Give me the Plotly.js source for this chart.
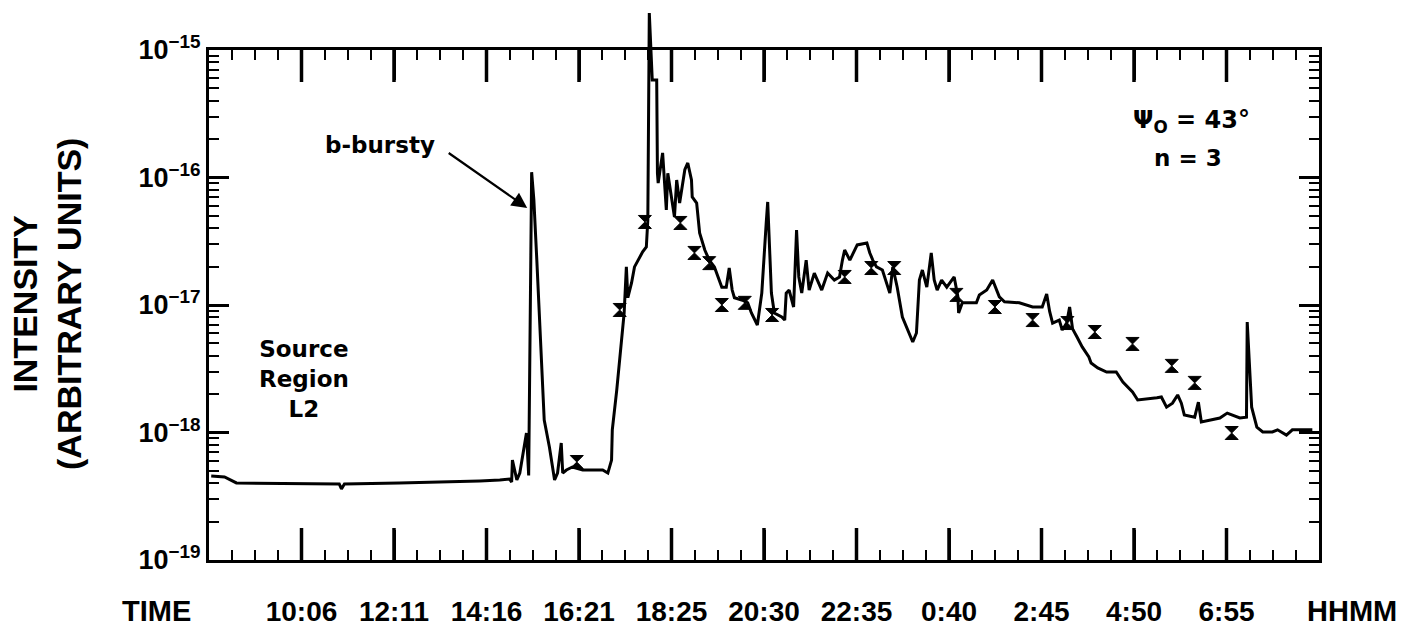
<!DOCTYPE html>
<html><head><meta charset="utf-8">
<script src="https://cdn.plot.ly/plotly-3.0.1.min.js"></script>
<style>html,body{margin:0;padding:0;background:#fff;} #chart{width:1424px;height:628px;}</style>
</head><body><div id="chart"></div>
<script>
// time in minutes after 00:00 of the first day (values beyond 1440 are next day)
const timeMin = [484,502,518,603,657,660,664,738,806,847,874,887,890,891,897,901,910,913,917,920,924,934,941,948,952,957,959,964,972,986,1013,1020,1025,1026,1032,1042,1045,1047,1052,1056,1067,1072,1074,1076,1080,1086,1087,1088,1094,1097,1099,1101,1106,1110,1113,1117,1124,1128,1133,1134,1140,1144,1151,1157,1164,1174,1180,1184,1188,1191,1202,1209,1214,1222,1228,1232,1234,1236,1238,1241,1245,1255,1259,1261,1265,1271,1275,1278,1282,1288,1292,1299,1309,1317,1326,1333,1337,1340,1347,1357,1370,1374,1378,1383,1391,1401,1405,1411,1418,1425,1432,1437,1441,1445,1451,1457,1461,1465,1471,1478,1488,1493,1494,1499,1518,1522,1532,1540,1549,1556,1576,1594,1603,1607,1613,1617,1621,1630,1634,1640,1644,1648,1654,1661,1670,1673,1682,1694,1707,1716,1729,1736,1762,1768,1775,1783,1790,1795,1799,1813,1818,1822,1847,1857,1874,1883,1884,1890,1897,1905,1918,1925,1937,1945,1972];
const intensity = [4.56e-19,4.48e-19,4.02e-19,3.95e-19,3.95e-19,3.61e-19,3.95e-19,4.02e-19,4.09e-19,4.17e-19,4.24e-19,4.32e-19,4.09e-19,6.08e-19,4.24e-19,4.81e-19,9.91e-19,4.6e-19,1.10e-16,6.67e-17,2.25e-17,1.25e-18,7.70e-19,4.24e-19,4.81e-19,8.27e-19,4.81e-19,5.08e-19,5.36e-19,5.08e-19,5.08e-19,4.81e-19,6.08e-19,1.05e-18,2.15e-18,8.65e-18,1.99e-17,1.14e-17,1.49e-17,1.99e-17,2.61e-17,2.85e-17,4.64e-17,1.95e-15,5.82e-16,5.82e-16,1.08e-16,9.05e-17,1.56e-16,9.05e-17,5.56e-17,1.08e-16,6.67e-17,4.90e-17,9.55e-17,6.31e-17,1.15e-16,1.30e-16,9.55e-17,7.03e-17,6.31e-17,3.67e-17,2.70e-17,2.25e-17,1.99e-17,1.38e-17,1.38e-17,1.95e-17,1.31e-17,1.14e-17,1.09e-17,1.04e-17,8.65e-18,6.97e-18,1.24e-17,2.56e-17,4.40e-17,6.43e-17,2.85e-17,1.24e-17,8.65e-18,8.05e-18,7.62e-18,1.24e-17,1.31e-17,9.64e-18,3.87e-17,1.66e-17,1.24e-17,2.25e-17,1.31e-17,1.78e-17,1.31e-17,1.78e-17,1.57e-17,1.66e-17,2.25e-17,2.70e-17,2.25e-17,2.96e-17,3.06e-17,2.56e-17,2.25e-17,1.99e-17,1.88e-17,1.24e-17,1.99e-17,1.38e-17,8.05e-18,6.37e-18,5.13e-18,6.03e-18,1.57e-17,1.88e-17,1.38e-17,2.56e-17,1.57e-17,1.31e-17,1.57e-17,1.38e-17,1.66e-17,1.16e-17,8.65e-18,1.04e-17,1.04e-17,1.20e-17,1.31e-17,1.57e-17,1.16e-17,1.06e-17,1.04e-17,9.64e-18,9.64e-18,9.64e-18,1.22e-17,8.9e-18,7.22e-18,7.62e-18,6.37e-18,7.22e-18,9.64e-18,6.5e-18,5.61e-18,4.69e-18,3.91e-18,3.51e-18,3.21e-18,2.98e-18,2.98e-18,2.49e-18,2.08e-18,1.80e-18,1.87e-18,1.90e-18,1.58e-18,1.70e-18,1.97e-18,1.70e-18,1.37e-18,1.32e-18,1.73e-18,1.21e-18,1.30e-18,1.42e-18,1.30e-18,1.32e-18,7.36e-18,1.58e-18,1.10e-18,1.01e-18,1.01e-18,1.05e-18,9.55e-19,1.05e-18,1.05e-18];
const markTime = [978,1036,1070,1118,1137,1157,1174,1205,1242,1340,1376,1407,1491,1543,1594,1641,1678,1729,1782,1813,1863];
const markIntensity = [5.87e-19,9.14e-18,4.48e-17,4.40e-17,2.56e-17,2.13e-17,1.00e-17,1.04e-17,8.35e-18,1.66e-17,1.95e-17,1.95e-17,1.20e-17,9.64e-18,7.62e-18,7.22e-18,6.14e-18,4.95e-18,3.33e-18,2.45e-18,9.91e-19];
const tickTimes = [606,731,856,981,1106,1231,1356,1481,1606,1731,1856];
const tickLabels = ["10:06","12:11","14:16","16:21","18:25","20:30","22:35","0:40","2:45","4:50","6:55"];
const decadeVals = [1e-19,1e-18,1e-17,1e-16,1e-15];
const decadeLabels = ["10<sup>−19</sup>","10<sup>−18</sup>","10<sup>−17</sup>","10<sup>−16</sup>","10<sup>−15</sup>"];

// minor tick positions (axis furniture): log sub-decades and quarter intervals between time ticks
const minorY = [];
for (let d = -19; d < -15; d++) for (let k = 2; k <= 9; k++) minorY.push(k * Math.pow(10, d));
const minorX = [];
for (let k = -3; k <= 47; k++) { if (k % 4 !== 0) minorX.push(606 + k * 31.25); }

const SANS = 'Liberation Sans, Arial, sans-serif';
const DV = 'DejaVu Sans, sans-serif';
const yTop = 510 / 550;
const px = v => (v - 209) / 1110;   // paper x from pixel
const py = v => (560 - v) / 550;    // paper y from pixel

const traces = [
  {x: timeMin, y: intensity, xaxis: 'x', yaxis: 'y2', type: 'scatter', mode: 'lines',
   line: {color: '#000', width: 3}, hoverinfo: 'skip', showlegend: false},
  {x: markTime, y: markIntensity, xaxis: 'x', yaxis: 'y', type: 'scatter', mode: 'markers',
   marker: {symbol: 'hourglass', size: 13, color: '#000', line: {width: 1, color: '#000'}}, showlegend: false}
];

const txt = (x, y, text, font, angle) => ({xref: 'paper', yref: 'paper', x: px(x), y: py(y),
  xanchor: 'center', yanchor: 'middle', showarrow: false, text: text, align: 'center',
  textangle: angle || 0, font: font});

// long major time ticks along bottom and top frame edges
const majorTickShapes = [];
tickTimes.forEach(t => {
  majorTickShapes.push({type: 'line', xref: 'x', yref: 'paper', x0: t, x1: t, y0: py(560), y1: py(528),
                        layer: 'above', line: {color: '#000', width: 3.5}});
  majorTickShapes.push({type: 'line', xref: 'x', yref: 'paper', x0: t, x1: t, y0: py(50), y1: py(82),
                        layer: 'above', line: {color: '#000', width: 3.5}});
});

const layout = {
  width: 1424, height: 628,
  margin: {l: 209, r: 105, t: 10, b: 68},
  paper_bgcolor: '#fff', plot_bgcolor: 'rgba(0,0,0,0)', showlegend: false,
  font: {family: SANS, color: '#000'},
  xaxis: {
    range: [481, 1981], domain: [0, 1], anchor: 'y',
    tickmode: 'array', tickvals: tickTimes, ticktext: tickLabels,
    ticks: 'inside', ticklen: 30, tickwidth: 3, tickcolor: '#000',
    showline: true, linewidth: 3, linecolor: '#000', mirror: 'ticks',
    showgrid: false, zeroline: false,
    tickfont: {family: SANS, size: 28, weight: 'bold', color: '#000'},
    ticklabelstandoff: 24,
    minor: {ticks: 'inside', ticklen: 10, tickwidth: 2, tickcolor: '#000',
            tickmode: 'array', tickvals: minorX, showgrid: false}
  },
  yaxis: {
    type: 'log', domain: [0, yTop], range: [-19, -15], anchor: 'x',
    tickmode: 'array', tickvals: decadeVals, ticktext: decadeLabels,
    ticks: 'inside', ticklen: 20, tickwidth: 3, tickcolor: '#000',
    showline: true, linewidth: 3, linecolor: '#000', mirror: 'ticks',
    showgrid: false, zeroline: false,
    tickfont: {family: SANS, size: 27, weight: 'bold', color: '#000'},
    minor: {ticks: 'inside', ticklen: 10, tickwidth: 2, tickcolor: '#000',
            tickmode: 'array', tickvals: minorY, showgrid: false}
  },
  yaxis2: {type: 'log', domain: [0, 1], range: [-19, -19 + 4 / yTop], anchor: 'x',
           visible: false, showgrid: false, zeroline: false},
  shapes: majorTickShapes,
  annotations: [
    txt(47, 304, 'INTENSITY<br>(ARBITRARY UNITS)', {family: SANS, size: 34, weight: 'bold', color: '#000'}, -90),
    txt(380, 145, 'b-bursty', {family: DV, size: 23, weight: 'bold', color: '#000'}),
    {xref: 'x', yref: 'y', x: 911, y: Math.log10(5.77e-17), ax: -80, ay: -56, text: '',
     showarrow: true, arrowhead: 2, arrowsize: 1.4, arrowwidth: 2.2, arrowcolor: '#000'},
    txt(304, 379, 'Source<br>Region<br>L2', {family: DV, size: 23, weight: 'bold', color: '#000'}),
    txt(1191, 122, 'Ψ<sub>O</sub> = 43°', {family: DV, size: 24, weight: 'bold', color: '#000'}),
    txt(1188, 158, 'n = 3', {family: DV, size: 23, weight: 'bold', color: '#000'}),
    txt(156, 611, 'TIME', {family: SANS, size: 29, weight: 'bold', color: '#000'}),
    txt(1352, 611, 'HHMM', {family: SANS, size: 29, weight: 'bold', color: '#000'})
  ]
};

Plotly.newPlot('chart', traces, layout, {staticPlot: true, displayModeBar: false});
</script>
</body></html>
